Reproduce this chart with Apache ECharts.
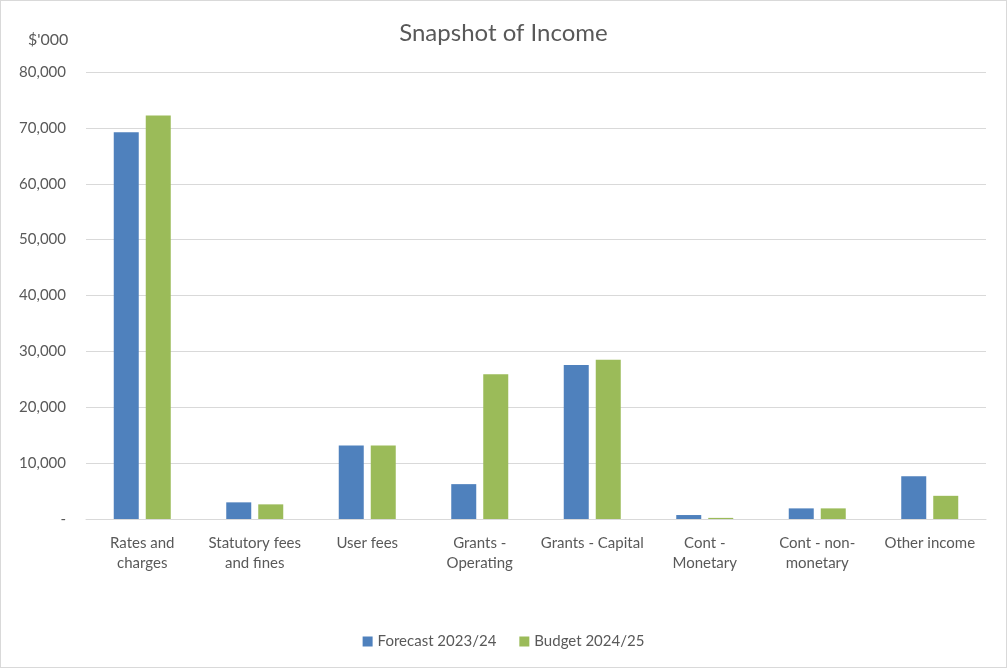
<!DOCTYPE html>
<html>
<head>
<meta charset="utf-8">
<script src="https://cdn.jsdelivr.net/npm/echarts@6/dist/echarts.min.js"></script>
<style>
  html, body { margin: 0; padding: 0; background: #fff; }
  #chart { width: 1007px; height: 668px; box-sizing: border-box; border: 1px solid #d9d9d9; }
</style>
</head>
<body>
<div id="chart"></div>
<script>
// Income categories ($'000)
const categories = [
  'Rates and\ncharges',
  'Statutory fees\nand fines',
  'User fees',
  'Grants -\nOperating',
  'Grants - Capital',
  'Cont -\nMonetary',
  'Cont - non-\nmonetary',
  'Other income'
];
const forecast2324 = [69200, 2980, 13150, 6240, 27560, 710, 1900, 7650];
const budget2425 = [72200, 2620, 13150, 25890, 28510, 200, 1900, 4150];
const seriesNames = ['Forecast 2023/24', 'Budget 2024/25'];

const textColor = '#595959';
const font = 'Lato, "Open Sans", sans-serif';

const chart = echarts.init(document.getElementById('chart'));
chart.setOption({
  backgroundColor: '#fff',
  textStyle: { fontFamily: font, color: textColor },
  title: {
    text: 'Snapshot of Income',
    left: 'center',
    top: 15,
    textStyle: { fontFamily: font, fontSize: 24, fontWeight: 'normal', color: textColor }
  },
  graphic: [{
    type: 'text',
    left: 27,
    top: 31,
    style: { text: "$'000", font: '16px ' + font, fill: textColor }
  }],
  legend: {
    bottom: 13,
    left: 'center',
    itemWidth: 10,
    itemHeight: 10,
    itemGap: 23,
    icon: 'rect',
    textStyle: { fontFamily: font, fontSize: 15, color: textColor },
    data: seriesNames
  },
  grid: { left: 85, right: 20, top: 71, bottom: 148, containLabel: false },
  xAxis: {
    type: 'category',
    data: categories,
    axisLine: { lineStyle: { color: '#d9d9d9', width: 1 } },
    axisTick: { show: false },
    axisLabel: {
      interval: 0,
      margin: 14,
      fontSize: 15,
      lineHeight: 20,
      color: textColor,
      fontFamily: font
    }
  },
  yAxis: {
    type: 'value',
    min: 0,
    max: 80000,
    interval: 10000,
    axisLine: { show: false },
    axisTick: { show: false },
    splitLine: { lineStyle: { color: '#d9d9d9', width: 1 } },
    axisLabel: {
      margin: 20,
      fontSize: 15,
      color: textColor,
      fontFamily: font,
      formatter: v => v === 0 ? '-' : v.toLocaleString('en-US')
    }
  },
  series: [
    {
      name: seriesNames[0],
      type: 'bar',
      data: forecast2324,
      barWidth: 25,
      barGap: '28%',
      itemStyle: { color: '#4f81bd' }
    },
    {
      name: seriesNames[1],
      type: 'bar',
      data: budget2425,
      barWidth: 25,
      itemStyle: { color: '#9bbb59' }
    }
  ]
});
</script>
</body>
</html>
